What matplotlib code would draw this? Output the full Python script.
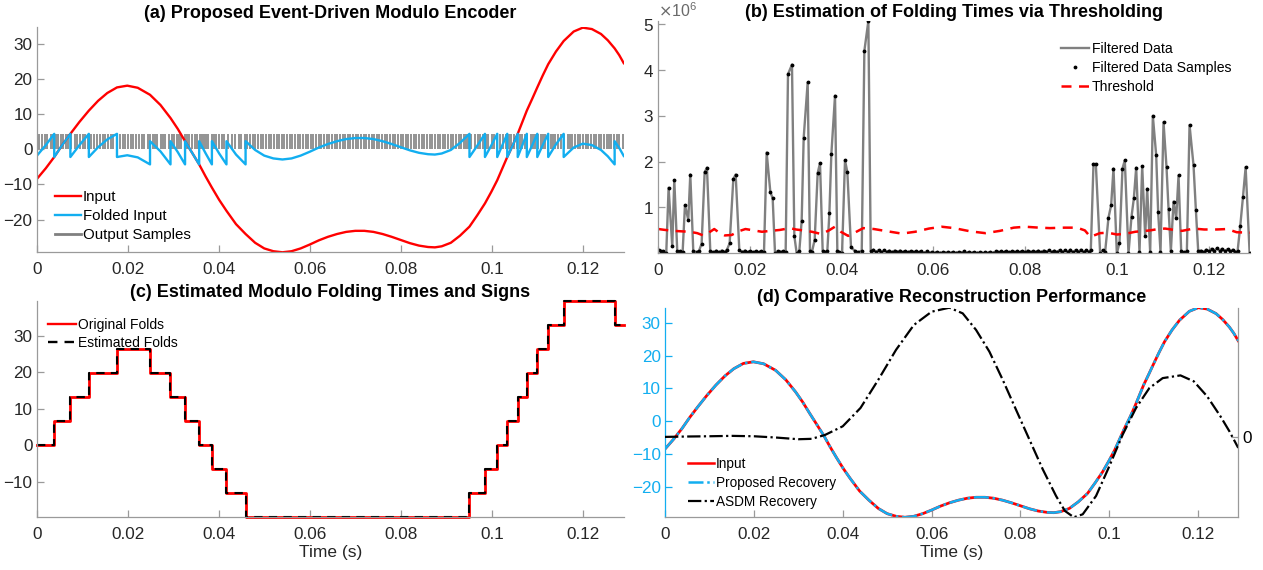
import numpy as np
import matplotlib
matplotlib.use('Agg')
import matplotlib.pyplot as plt
from matplotlib.ticker import ScalarFormatter
from matplotlib.lines import Line2D

plt.rcParams['font.family'] = ['Liberation Sans', 'DejaVu Sans']

# ---------------- data ----------------
# input signal (time in s, amplitude)
input_t = [0.0, 0.002, 0.00385, 0.0056, 0.0074, 0.0094, 0.01146, 0.0135, 0.0155, 0.01764,
           0.0199, 0.0222, 0.0249, 0.0272, 0.0294, 0.0310, 0.0326, 0.0342, 0.0357, 0.0371,
           0.0385, 0.0401, 0.0417, 0.0438, 0.0459, 0.0480, 0.0500, 0.0520, 0.0540, 0.0560,
           0.0580, 0.0600, 0.0620, 0.0640, 0.0660, 0.0680, 0.0700, 0.0720, 0.0740, 0.0760,
           0.0780, 0.0800, 0.0820, 0.0840, 0.0860, 0.0875, 0.0890, 0.0910, 0.0930, 0.0951,
           0.0968, 0.0985, 0.0999, 0.1012, 0.1023, 0.1034, 0.1046, 0.1057, 0.1067, 0.1077,
           0.1089, 0.1100, 0.1112, 0.1124, 0.1141, 0.1158, 0.1180, 0.1200, 0.1220, 0.1240,
           0.1255, 0.1270, 0.1280, 0.1290]
input_v = [-8.5, -5.4, -2.2, 1.2, 4.4, 7.8, 11.0, 13.8, 16.0, 17.6,
           18.1, 17.5, 15.5, 12.6, 8.9, 5.8, 2.3, -1.1, -4.3, -7.7,
           -10.9, -14.4, -17.5, -21.3, -24.1, -26.6, -28.2, -29.0, -29.3, -29.0,
           -28.2, -27.1, -25.9, -24.9, -24.1, -23.5, -23.2, -23.2, -23.5, -24.1,
           -24.9, -25.8, -26.7, -27.4, -27.8, -27.9, -27.6, -26.6, -24.6, -22.0,
           -18.8, -15.4, -12.1, -8.8, -5.5, -2.2, 1.1, 4.4, 7.7, 11.0,
           14.4, 17.6, 21.0, 24.2, 27.8, 30.8, 33.5, 34.6, 34.2, 32.8,
           31.0, 28.7, 26.8, 24.5]

# modulo folding times and fold levels
fold_t = [0.0, 0.00385, 0.0074, 0.01146, 0.01764, 0.0249, 0.0294, 0.0326, 0.0357, 0.0385,
          0.0417, 0.0459, 0.0951, 0.0985, 0.1012, 0.1034, 0.1057, 0.1077, 0.1100, 0.1124,
          0.1158, 0.1270, 0.1290]
fold_level = [0.0, 6.6, 13.2, 19.8, 26.4, 19.8, 13.2, 6.6, 0.0, -6.6,
              -13.2, -19.8, -13.2, -6.6, 0.0, 6.6, 13.2, 19.8, 26.4, 33.0,
              39.6, 33.0, 33.0]
fold_step = 6.6
output_level = 4.4

# filtered data samples (event times, value in 1e6)
filt_t = [0.00015, 0.00058, 0.00109, 0.00174, 0.00225, 0.00305, 0.00349, 0.00414, 0.00465, 0.00531,
          0.00582, 0.00654, 0.00698, 0.00763, 0.00836, 0.00887, 0.00945, 0.01011, 0.01061, 0.01134,
          0.01200, 0.01265, 0.01323, 0.01381, 0.01447, 0.01498, 0.01556, 0.01636, 0.01687, 0.01767,
          0.01832, 0.01890, 0.01948, 0.02007, 0.02072, 0.02123, 0.02188, 0.02246, 0.02305, 0.02363,
          0.02443, 0.02494, 0.02545, 0.02603, 0.02654, 0.02726, 0.02777, 0.02828, 0.02915, 0.02966,
          0.03017, 0.03075, 0.03126, 0.03170, 0.03257, 0.03308, 0.03351, 0.03410, 0.03475, 0.03526,
          0.03584, 0.03635, 0.03685, 0.03730, 0.03773, 0.03853, 0.03904, 0.03948, 0.04006, 0.04071,
          0.04122, 0.04202, 0.04290, 0.04362, 0.04436, 0.04493, 0.04580, 0.04632,
          0.04690, 0.04748, 0.04806, 0.04864, 0.04922, 0.04980, 0.05038, 0.05096, 0.05154, 0.05212,
          0.05270, 0.05328, 0.05386, 0.05444, 0.05502, 0.05560,
          0.05618, 0.05676, 0.05734, 0.05792, 0.05850, 0.05908, 0.05966, 0.06024, 0.06082, 0.06140,
          0.06198, 0.06256, 0.06314, 0.06372, 0.06430, 0.06488,
          0.06546, 0.06604, 0.06662, 0.06720, 0.06778, 0.06836, 0.06894, 0.06952, 0.07010, 0.07068,
          0.07126, 0.07184, 0.07242, 0.07300, 0.07358, 0.07416,
          0.07474, 0.07532, 0.07590, 0.07648, 0.07706, 0.07764, 0.07822, 0.07880, 0.07938, 0.07996,
          0.08054, 0.08112, 0.08170, 0.08228, 0.08286, 0.08344,
          0.08402, 0.08460, 0.08518, 0.08576, 0.08634, 0.08692, 0.08750, 0.08808, 0.08866, 0.08924,
          0.08982, 0.09040, 0.09098, 0.09156, 0.09214, 0.09272, 0.09330, 0.09388,
          0.09430, 0.09488, 0.09539, 0.09633, 0.09691, 0.09742, 0.09815, 0.09873, 0.09924, 0.09997,
          0.10055, 0.10120, 0.10171, 0.10251, 0.10317, 0.10368, 0.10419, 0.10491, 0.10550, 0.10615,
          0.10659, 0.10724, 0.10782, 0.10855, 0.10898, 0.10949, 0.11015, 0.11080, 0.11124, 0.11175,
          0.11233, 0.11291, 0.11342, 0.11400, 0.11466, 0.11524, 0.11582, 0.11669, 0.11720, 0.11771,
          0.11830, 0.11888, 0.11946, 0.12004, 0.12062, 0.12120, 0.12178, 0.12236, 0.12294, 0.12352,
          0.12410, 0.12468, 0.12526, 0.12580, 0.12630, 0.12688, 0.12746, 0.12805, 0.12892]
filt_v_millions = [0.07, 0.04, 0.04, 0.00, 1.43, 0.15, 1.60, 0.04, 0.04, 0.03,
                   1.05, 0.73, 1.72, 0.05, 0.03, 0.05, 0.21, 1.77, 1.87, 0.05,
                   0.02, 0.06, 0.02, 0.06, 0.03, 0.08, 0.22, 1.62, 1.72, 0.07,
                   0.03, 0.06, 0.02, 0.05, 0.02, 0.05, 0.02, 0.04, 0.03, 2.20,
                   1.34, 1.20, 0.00, 0.05, 0.03, 0.05, 0.03, 3.91, 4.12, 0.38,
                   0.00, 0.05, 0.71, 2.52, 3.73, 0.04, 0.03, 0.30, 1.75, 1.97,
                   0.05, 0.03, 0.04, 0.87, 2.16, 3.44, 0.04, 0.03, 0.00, 2.03,
                   1.77, 0.13, 0.05, 0.02, 0.06, 4.42, 5.07, 0.05,
                   0.08, 0.03, 0.07, 0.02, 0.07, 0.03, 0.06, 0.02, 0.06, 0.03,
                   0.06, 0.02, 0.05, 0.02, 0.05, 0.02,
                   0.05, 0.02, 0.04, 0.01, 0.04, 0.01, 0.03, 0.01, 0.03, 0.01,
                   0.02, 0.01, 0.03, 0.01, 0.03, 0.01,
                   0.03, 0.01, 0.04, 0.01, 0.03, 0.01, 0.02, 0.01, 0.02, 0.00,
                   0.02, 0.01, 0.03, 0.01, 0.04, 0.02,
                   0.04, 0.02, 0.05, 0.02, 0.04, 0.02, 0.05, 0.02, 0.05, 0.03,
                   0.06, 0.02, 0.05, 0.03, 0.06, 0.02,
                   0.06, 0.03, 0.07, 0.02, 0.06, 0.03, 0.07, 0.02, 0.07, 0.03,
                   0.08, 0.02, 0.07, 0.03, 0.08, 0.02, 0.07, 0.03,
                   0.08, 1.95, 1.95, 0.00, 0.07, 0.03, 0.78, 1.05, 1.85, 0.00,
                   0.23, 1.85, 2.03, 0.00, 0.80, 1.20, 1.87, 0.03, 1.90, 0.37,
                   1.41, 0.02, 3.00, 2.14, 0.90, 0.03, 2.86, 1.88, 0.97, 0.05,
                   1.13, 0.76, 1.70, 0.05, 0.02, 0.05, 2.80, 1.92, 0.95, 0.05,
                   0.06, 0.03, 0.08, 0.05, 0.10, 0.05, 0.11, 0.06, 0.10, 0.05,
                   0.09, 0.04, 0.08, 0.03, 0.05, 0.60, 1.22, 1.88, 0.00]

# adaptive threshold (time, value in 1e6)
thr_t = [0.0000, 0.0015, 0.0033, 0.0050, 0.0069, 0.0085, 0.0098, 0.0110, 0.0122, 0.0133,
         0.0145, 0.0160, 0.0175, 0.0190, 0.0208, 0.0226, 0.0245, 0.0265, 0.0287, 0.0300,
         0.0316, 0.0335, 0.0356, 0.0372, 0.0385, 0.0398, 0.0414, 0.0430, 0.0447, 0.0470,
         0.0500, 0.0531, 0.0560, 0.0590, 0.0618, 0.0645, 0.0680, 0.0713, 0.0745, 0.0775,
         0.0800, 0.0830, 0.0854, 0.0885, 0.0913, 0.0930, 0.0942, 0.0963, 0.0980, 0.1000,
         0.1020, 0.1040, 0.1072, 0.1090, 0.1105, 0.1125, 0.1142, 0.1167, 0.1190, 0.1218,
         0.1240, 0.1261, 0.1290]
thr_v_millions = [0.53, 0.51, 0.49, 0.48, 0.47, 0.44, 0.39, 0.45, 0.53, 0.45,
                  0.39, 0.40, 0.48, 0.53, 0.50, 0.47, 0.49, 0.51, 0.55, 0.52,
                  0.50, 0.47, 0.42, 0.50, 0.58, 0.47, 0.38, 0.46, 0.55, 0.53,
                  0.48, 0.43, 0.47, 0.54, 0.58, 0.55, 0.48, 0.44, 0.49, 0.56,
                  0.58, 0.56, 0.55, 0.56, 0.56, 0.50, 0.36, 0.44, 0.45, 0.41,
                  0.43, 0.47, 0.50, 0.53, 0.54, 0.51, 0.49, 0.54, 0.52, 0.52,
                  0.53, 0.46, 0.45]

# ASDM recovery (right axis, arbitrary units)
asdm_t = [0.000, 0.005, 0.010, 0.015, 0.020, 0.025, 0.030, 0.033, 0.036, 0.040,
          0.044, 0.048, 0.052, 0.056, 0.060, 0.064, 0.067, 0.070, 0.073, 0.076,
          0.079, 0.082, 0.085, 0.088, 0.090, 0.092, 0.094, 0.097, 0.100, 0.103,
          0.106, 0.109, 0.112, 0.116, 0.119, 0.122, 0.125, 0.127, 0.129]
asdm_v = [0.000, 0.003, 0.005, 0.008, 0.005, -0.005, -0.018, -0.015, 0.015, 0.082,
          0.224, 0.442, 0.674, 0.866, 0.969, 1.000, 0.956, 0.828, 0.660, 0.442,
          0.210, -0.020, -0.250, -0.457, -0.573, -0.622, -0.599, -0.457, -0.226, 0.018,
          0.224, 0.378, 0.455, 0.476, 0.430, 0.314, 0.159, 0.044, -0.085]

xticks = [0, 0.02, 0.04, 0.06, 0.08, 0.1, 0.12]
xticklabels = ['0', '0.02', '0.04', '0.06', '0.08', '0.1', '0.12']

# ---------------- derived: folded signal ----------------
fold_t_arr = np.array(fold_t)
fold_lv_arr = np.array(fold_level)
folded_t, folded_v = [], []
for t, v in zip(input_t, input_v):
    k = np.searchsorted(fold_t_arr, t + 1e-9, side='right') - 1
    if k > 0 and abs(fold_t_arr[k] - t) < 1e-9:
        folded_t.append(t)
        folded_v.append(v - fold_lv_arr[k - 1] + fold_step)
    folded_t.append(t)
    folded_v.append(v - fold_lv_arr[k] + fold_step)

filt_v = np.array(filt_v_millions) * 1e6
thr_v = np.array(thr_v_millions) * 1e6

# ---------------- style ----------------
RED = '#ff0000'
BLUE = '#12aef0'
GRAY = '#808080'
AXC = '#9a9a9a'
TXT = '#262626'
TICK_FS = 12.3
TITLE_FS = 13.0
DASH = (0, (4, 3))
DASHDOT = (0, (6, 1.5, 1, 1.5))

fig = plt.figure(figsize=(12.63, 5.70), dpi=100)


def style(ax, xlabel=None):
    for s in ['top', 'right']:
        ax.spines[s].set_visible(False)
    for s in ['left', 'bottom']:
        ax.spines[s].set_color(AXC)
        ax.spines[s].set_linewidth(0.9)
    ax.tick_params(direction='in', length=5, width=0.9, color=AXC,
                   labelcolor=TXT, labelsize=TICK_FS)
    ax.tick_params(axis='x', pad=7)
    ax.tick_params(axis='y', pad=3)
    ax.set_xlim(0, 0.129)
    ax.set_xticks(xticks)
    ax.set_xticklabels(xticklabels)
    if xlabel:
        ax.set_xlabel(xlabel, fontsize=12.5, color=TXT, labelpad=2)


def title(ax, s, pad):
    ax.set_title(s, fontsize=TITLE_FS, fontweight='bold', pad=pad, color='black')


# (a)
axA = fig.add_axes([0.02906, 0.5574, 0.4648, 0.3947])
style(axA)
axA.vlines(filt_t, 0, output_level, color=GRAY, lw=1.2)
axA.plot(input_t, input_v, color=RED, lw=1.7)
axA.plot(folded_t, folded_v, color=BLUE, lw=1.7)
axA.set_ylim(-29.3, 34.7)
axA.set_yticks([-20, -10, 0, 10, 20, 30])
title(axA, '(a) Proposed Event-Driven Modulo Encoder', 7)
hA = [Line2D([], [], color=RED, lw=1.7), Line2D([], [], color=BLUE, lw=1.7),
      Line2D([], [], color=GRAY, lw=2.0)]
axA.legend(hA, ['Input', 'Folded Input', 'Output Samples'], loc='lower left',
           bbox_to_anchor=(0.0075, -0.014), frameon=False, fontsize=10.8,
           handlelength=1.75, handletextpad=0.12, labelspacing=0.32, borderpad=0.4)

# (b)
axB = fig.add_axes([0.5212, 0.5556, 0.4685, 0.4075])
style(axB)
axB.plot(filt_t, filt_v, color=GRAY, lw=1.7)
axB.plot(filt_t, filt_v, 'k.', ms=3.5)
axB.plot(thr_t, thr_v, color=RED, lw=1.8, ls=DASH)
axB.set_ylim(0, 5.07e6)
axB.set_yticks([1e6, 2e6, 3e6, 4e6, 5e6])
fmt = ScalarFormatter(useMathText=True)
fmt.set_powerlimits((0, 0))
axB.yaxis.set_major_formatter(fmt)
axB.yaxis.get_offset_text().set_fontsize(11.5)
axB.yaxis.get_offset_text().set_color('#6a6a6a')
title(axB, '(b) Estimation of Folding Times via Thresholding', 3)
hB = [Line2D([], [], color=GRAY, lw=1.7),
      Line2D([], [], color='k', marker='.', ms=3.5, ls='none'),
      Line2D([], [], color=RED, lw=1.8, ls=DASH)]
axB.legend(hB, ['Filtered Data', 'Filtered Data Samples', 'Threshold'],
           loc='upper right', bbox_to_anchor=(0.99, 0.966), frameon=False,
           fontsize=10.1, handlelength=2.0, handletextpad=0.2, labelspacing=0.36,
           borderpad=0.4)

# (c)
axC = fig.add_axes([0.02906, 0.0925, 0.4648, 0.38])
style(axC, 'Time (s)')
axC.step(fold_t, fold_level, where='post', color=RED, lw=2.0, clip_on=False)
axC.step(fold_t, fold_level, where='post', color='k', lw=1.5, ls=DASH,
         clip_on=False)
axC.set_ylim(-19.8, 39.6)
axC.set_yticks([-10, 0, 10, 20, 30])
title(axC, '(c) Estimated Modulo Folding Times and Signs', 3)
hC = [Line2D([], [], color=RED, lw=1.7),
      Line2D([], [], color='k', lw=1.7, ls=DASH)]
axC.legend(hC, ['Original Folds', 'Estimated Folds'], loc='upper left',
           bbox_to_anchor=(-0.0025, 0.98), frameon=False, fontsize=10.0,
           handlelength=2.0, handletextpad=0.15, labelspacing=0.33, borderpad=0.4)

# (d)
axD = fig.add_axes([0.5265, 0.0925, 0.4539, 0.3677])
style(axD, 'Time (s)')
axD.spines['left'].set_color(BLUE)
axD.tick_params(axis='y', colors=BLUE, labelcolor=BLUE)
axD.plot(input_t, input_v, color=RED, lw=2.0)
axD.plot(input_t, input_v, color=BLUE, lw=1.8, ls=DASHDOT)
axD.set_ylim(-29.3, 34.6)
axD.set_yticks([-20, -10, 0, 10, 20, 30])
axD2 = axD.twinx()
axD2.set_position(axD.get_position())
axD2.plot(asdm_t, asdm_v, color='k', lw=1.6, ls=DASHDOT)
axD2.set_ylim(min(asdm_v), max(asdm_v))
axD2.set_yticks([0])
axD2.set_xlim(0, 0.129)
for s in ['top', 'left', 'bottom']:
    axD2.spines[s].set_visible(False)
axD2.spines['right'].set_color(AXC)
axD2.spines['right'].set_linewidth(0.9)
axD2.tick_params(direction='in', length=5, width=0.9, color=AXC,
                 labelcolor='black', labelsize=TICK_FS, pad=3)
title(axD, '(d) Comparative Reconstruction Performance', 4)
hD = [Line2D([], [], color=RED, lw=1.8),
      Line2D([], [], color=BLUE, lw=1.8, ls=DASHDOT),
      Line2D([], [], color='k', lw=1.6, ls=DASHDOT)]
axD2.legend(hD, ['Input', 'Proposed Recovery', 'ASDM Recovery'], loc='lower left',
            bbox_to_anchor=(0.019, -0.018), frameon=False, fontsize=9.8,
            handlelength=1.9, handletextpad=0.15, labelspacing=0.36, borderpad=0.4)

fig.savefig('out.png', dpi=100)
